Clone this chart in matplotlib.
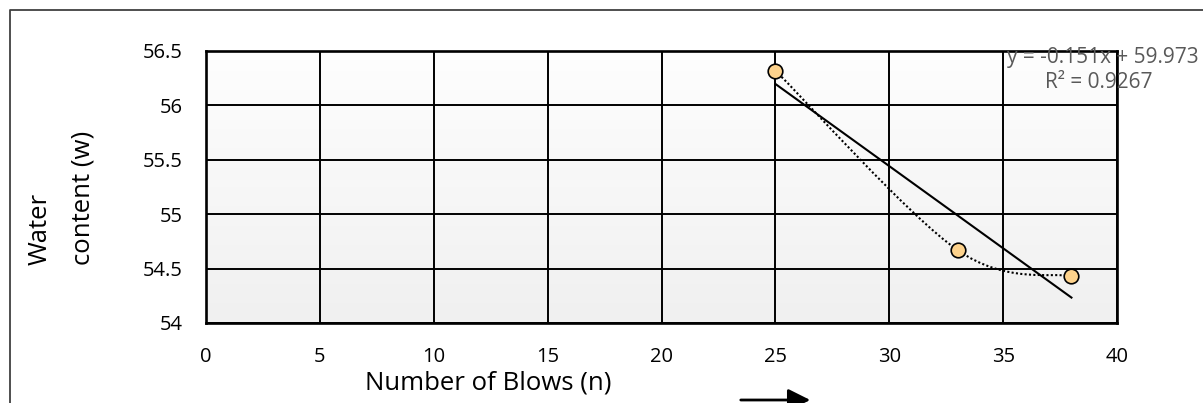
import numpy as np
import matplotlib.pyplot as plt
from matplotlib.path import Path
from matplotlib.patches import PathPatch, FancyArrowPatch
from matplotlib.lines import Line2D
from matplotlib.colors import LinearSegmentedColormap

# data
blows = [25, 33, 38]
water = [56.32, 54.67, 54.43]
x_ticks = [0, 5, 10, 15, 20, 25, 30, 35, 40]
y_ticks = [54, 54.5, 55, 55.5, 56, 56.5]
y_tick_labels = ['54', '54.5', '55', '55.5', '56', '56.5']

plt.rcParams['font.family'] = ['Open Sans', 'DejaVu Sans']

W, H = 1203, 403
fig = plt.figure(figsize=(W / 100, H / 100), dpi=100)
ax = fig.add_axes([206 / W, 1 - 323 / H, (1117 - 206) / W, (323 - 51) / H])

# gradient plot area
grad = np.linspace(0, 1, 256).reshape(-1, 1)
ax.imshow(grad, extent=[0, 1, 0, 1], transform=ax.transAxes, aspect='auto',
          cmap=LinearSegmentedColormap.from_list('g', ['#f0f0f0', '#fefefe']),
          origin='lower', zorder=0)

ax.set_xlim(0, 40)
ax.set_ylim(54, 56.5)
ax.set_xticks(x_ticks)
ax.set_yticks(y_ticks)
ax.set_yticklabels(y_tick_labels)
ax.tick_params(length=0, labelsize=14.5)
ax.tick_params(axis='y', pad=17)
ax.tick_params(axis='x', pad=17)
ax.grid(True, color='black', linewidth=1.4, zorder=1)
ax.set_axisbelow(False)
for s in ax.spines.values():
    s.set_linewidth(1.9)
    s.set_zorder(3)

# smoothed line (Excel-like bezier through the points)
pts = np.column_stack([blows, water])
n = len(pts)
verts = [tuple(pts[0])]
codes = [Path.MOVETO]
for i in range(n - 1):
    p0 = pts[max(i - 1, 0)]
    p1 = pts[i]
    p2 = pts[i + 1]
    p3 = pts[min(i + 2, n - 1)]
    c1 = p1 + (p2 - p0) / 6
    c2 = p2 - (p3 - p1) / 6
    verts += [tuple(c1), tuple(c2), tuple(p2)]
    codes += [Path.CURVE4] * 3
ax.add_patch(PathPatch(Path(verts, codes), facecolor='none', edgecolor='black',
                       linestyle=(0, (1, 1.1)), linewidth=1.5, zorder=4))

# linear trendline
slope, intercept = np.polyfit(blows, water, 1)
tx = np.array([min(blows), max(blows)])
ax.plot(tx, slope * tx + intercept, color='black', linewidth=1.5, zorder=4)

ax.plot(blows, water, 'o', markersize=10.5, markerfacecolor='#fdd28c',
        markeredgecolor='black', markeredgewidth=1.2, zorder=5, clip_on=False)

r2 = np.corrcoef(blows, water)[0, 1] ** 2
fig.text(1199 / W, 1 - 57 / H, f'y = {slope:.3f}x + {intercept:.3f}', ha='right', va='center',
         fontsize=15, color='#595959')
fig.text(1099 / W, 1 - 82 / H, f'R² = {r2:.4f}', ha='center', va='center',
         fontsize=15, color='#595959')

fig.text(488 / W, 1 - 383 / H, 'Number of Blows (n)', ha='center', va='center', fontsize=18.5)
fig.text(40 / W, 1 - 265 / H, 'Water', ha='center', va='bottom', rotation=90, fontsize=18.5)
fig.text(83 / W, 1 - 265 / H, 'content (w)', ha='center', va='bottom', rotation=90, fontsize=18.5)

# arrow and outer frame
fig.add_artist(FancyArrowPatch((738 / W, 1 - 400 / H), (813 / W, 1 - 400 / H),
                               transform=fig.transFigure, arrowstyle='-|>,head_length=9,head_width=4.5',
                               color='black', linewidth=2, mutation_scale=1.5))
fig.add_artist(Line2D([9.5 / W, 9.5 / W, 1.0], [0.0, 1 - 9.5 / H, 1 - 9.5 / H],
                      transform=fig.transFigure, color='#404040', linewidth=1.3))

fig.savefig('out.png', dpi=100)
